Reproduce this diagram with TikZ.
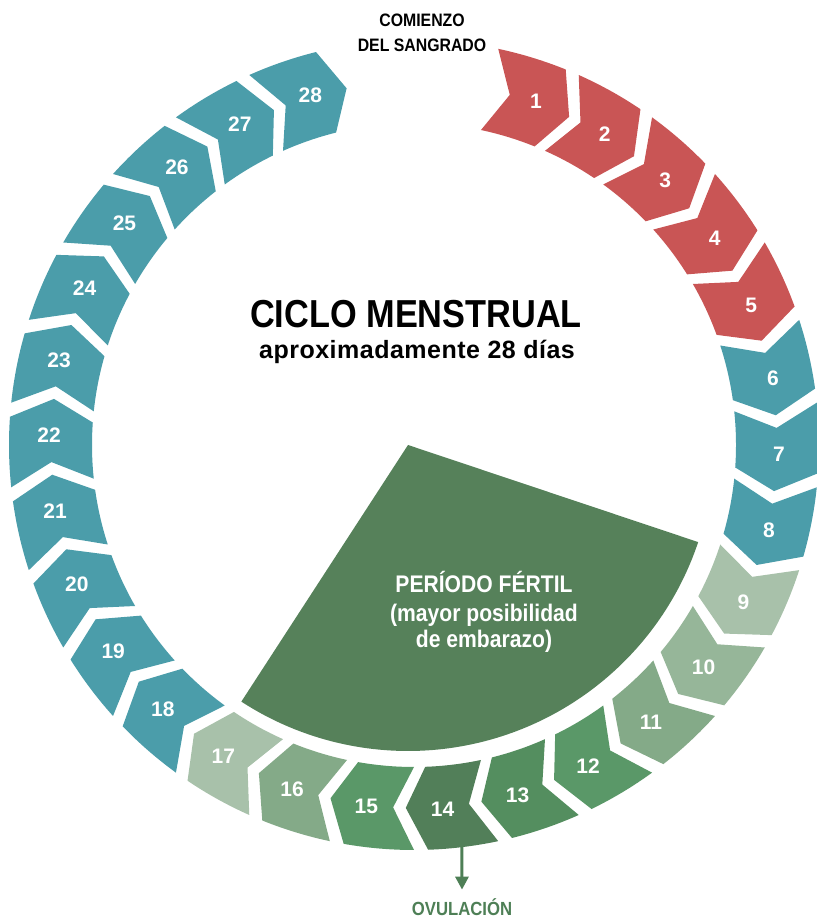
\documentclass[tikz,border=0pt]{standalone}
\usepackage{fontspec}
\setmainfont{Liberation Sans}
\newfontfamily\condfont{Liberation Sans}[FakeStretch=0.88]
\newfontfamily\widefont{Liberation Sans}[LetterSpace=2]
\usetikzlibrary{arrows.meta}

\definecolor{segred}{RGB}{201,85,85}
\definecolor{segteal}{RGB}{75,157,170}
\definecolor{fertA}{RGB}{168,193,170}
\definecolor{fertB}{RGB}{150,182,153}
\definecolor{fertC}{RGB}{132,170,136}
\definecolor{fertD}{RGB}{90,152,104}
\definecolor{fertE}{RGB}{84,142,95}
\definecolor{fertF}{RGB}{82,127,89}
\definecolor{sectorgreen}{RGB}{86,129,90}
\definecolor{ovulgreen}{RGB}{78,127,86}

\tikzset{
    daynum/.style={text=white, font=\bfseries\fontsize{21}{21}\selectfont},
    heading/.style={anchor=base, font=\condfont\bfseries\fontsize{#1}{#1}\selectfont},
    ovarrow/.style={ovulgreen, line width=3pt, -{Triangle[width=13pt,length=13pt]}, shorten >=5pt}
}

\begin{document}
\begin{tikzpicture}[x=1pt, y=1pt]
                    \useasboundingbox (0,0) rectangle (816,920);

                    \fill[sectorgreen] (408,475) -- +(-18.5:306) arc[start angle=-18.5, end angle=-123, radius=306] -- cycle;

                    \begin{scope}[shift={(414,475)}]
                    \foreach \i/\c in {1/segred, 2/segred, 3/segred, 4/segred, 5/segred,
                                       6/segteal, 7/segteal, 8/segteal,
                                       9/fertA, 10/fertB, 11/fertC, 12/fertD, 13/fertE,
                                       14/fertF, 15/fertD, 16/fertC, 17/fertA,
                                       18/segteal, 19/segteal, 20/segteal, 21/segteal, 22/segteal,
                                       23/segteal, 24/segteal, 25/segteal, 26/segteal, 27/segteal, 28/segteal} {
                        \pgfmathsetmacro{\b}{78-12*(\i-1)}
                        \pgfmathsetmacro{\f}{\b-10}
                        \fill[\c] (\b:405) arc[start angle=\b, end angle=\f, radius=405] -- (\f-3.3:363)
                            -- (\f:322) arc[start angle=\f, end angle=\b, radius=322] -- (\b-3.3:363) -- cycle;
                        \node[daynum] (d\i) at (\b-7.5:365) {\i};
                    }
                    \coordinate (ovtop) at (-83.2:405);
                    \end{scope}

                    \node[heading=18] (comienzo) at (422,893) {COMIENZO};
                    \node[heading=18] (sangrado) at (422,868) {DEL SANGRADO};

                    \node[heading=39] (ciclo) at (416,592) {CICLO MENSTRUAL};
                    \node[anchor=base, font=\widefont\bfseries\fontsize{25}{25}\selectfont] (aprox) at (417,561) {aproximadamente 28 días};

                    \node[heading=24, text=white] (fertil) at (484,327) {PERÍODO FÉRTIL};
                    \node[heading=24, text=white] (mayor) at (484,298) {(mayor posibilidad};
                    \node[heading=24, text=white] (embarazo) at (484,272) {de embarazo)};

                    \node[heading=19, text=ovulgreen] (ovul) at (462,5) {OVULACIÓN};
                    \draw[ovarrow] (ovtop) -- (ovul.north);
\end{tikzpicture}
\end{document}
